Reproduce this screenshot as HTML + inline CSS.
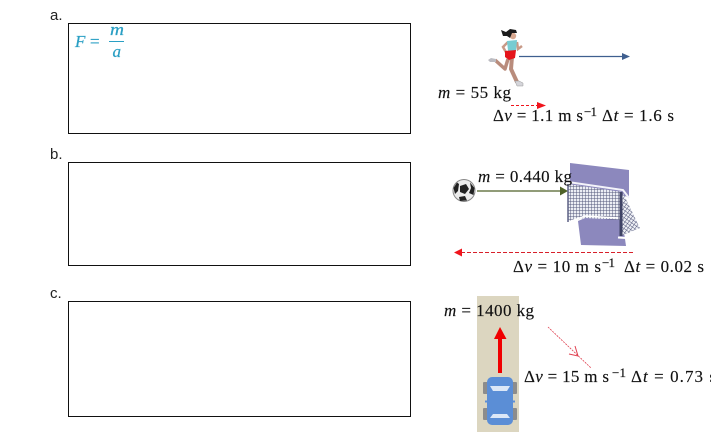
<!DOCTYPE html>
<html>
<head>
<meta charset="utf-8">
<style>
html,body{margin:0;padding:0;background:#fff;width:711px;height:439px;overflow:hidden}
svg{display:block}
.l{font-family:"Liberation Sans",sans-serif;font-size:15px;fill:#222}
.t{font-family:"Liberation Serif",serif;font-size:17px;fill:#111;stroke:#111;stroke-width:.15px}
.s{font-family:"Liberation Serif",serif;font-size:13px;fill:#111;stroke:#111;stroke-width:.15px}
.i{font-style:italic}
.f{font-family:"Liberation Serif",serif;font-size:17px;fill:#2a9fc4;stroke:#2a9fc4;stroke-width:.25px;font-style:italic}
</style>
</head>
<body>
<svg width="711" height="439" viewBox="0 0 711 439" xmlns="http://www.w3.org/2000/svg">
<defs>
<pattern id="net" width="3" height="3" patternUnits="userSpaceOnUse">
<rect width="3" height="3" fill="#eceef4"/>
<path d="M0 0H3M0 0V3" stroke="#55597c" stroke-width="1"/>
</pattern>
<pattern id="side" width="3" height="3" patternUnits="userSpaceOnUse" patternTransform="rotate(35)">
<rect width="3" height="3" fill="#eef0f5"/>
<path d="M0 0H3M0 0V3" stroke="#55597c" stroke-width="1"/>
</pattern>
</defs>

<rect x="68.500" y="23.500" width="342" height="110" fill="#fff" stroke="#111"/>
<rect x="68.500" y="162.500" width="342" height="103" fill="#fff" stroke="#111"/>
<rect x="68.500" y="301.500" width="342" height="115" fill="#fff" stroke="#111"/>

<text class="l" x="50" y="20">a.</text>
<text class="l" x="50" y="159">b.</text>
<text class="l" x="50" y="298">c.</text>

<text class="f" x="75" y="47">F</text>
<text class="f" x="90" y="47" style="font-style:normal">=</text>
<text class="f" x="110" y="35" textLength="14" lengthAdjust="spacingAndGlyphs">m</text>
<rect x="109" y="41" width="15" height="1" fill="#2a9fc4"/>
<text class="f" x="112.500" y="57">a</text>

<!-- runner -->
<path d="M508 59 L505 69 L495 60" fill="none" stroke="#b98c7c" stroke-width="3.500" stroke-linejoin="round"/>
<path d="M512 57 L511 69 L517 82" fill="none" stroke="#b98c7c" stroke-width="4" stroke-linejoin="round"/>
<path d="M488 60 L491 58 L496 59 L496 62 L490 62 Z" fill="#bcbcc2"/>
<path d="M515 81 L519 81 L523 83 L523 86 L517 86 Z" fill="#d5d5da" stroke="#999" stroke-width=".5"/>
<path d="M508 42 L503 47 L507 54" fill="none" stroke="#c89a88" stroke-width="2.500"/>
<path d="M517 42 L518 49 L522 46" fill="none" stroke="#c89a88" stroke-width="2.500"/>
<path d="M507 41 L517 40 L516 51 L508 51 Z" fill="#77ccd2"/>
<path d="M505 51 L516 50 L515 58 L509 60 L505 57 Z" fill="#e5141a"/>
<circle cx="513" cy="36" r="3.200" fill="#d8a890"/>
<path d="M501 30 L506 32 L510 29 L516 30 L517 33 L512 33 L510 38 L507 36 L503 36 Z" fill="#1c1c1c"/>

<path d="M519 56.500H623" stroke="#3f5f8f" stroke-width="1.200"/>
<path d="M622 53 L630 56.500 L622 60 Z" fill="#3f5f8f"/>
<text class="t" x="438" y="98" textLength="73" lengthAdjust="spacing"><tspan class="i">m</tspan> = 55 kg</text>
<path d="M511 105.500H538" stroke="#f0141c" stroke-width="1" stroke-dasharray="3 2"/>
<path d="M537 102 L546 105.500 L537 109 Z" fill="#f0141c"/>
<text class="t" x="493" y="121" textLength="90" lengthAdjust="spacing">Δ<tspan class="i">v</tspan> = 1.1 m s</text>
<text class="s" x="584" y="116" textLength="13" lengthAdjust="spacing">−1</text>
<text class="t" x="602" y="121" textLength="72" lengthAdjust="spacing">Δ<tspan class="i">t</tspan> = 1.6 s</text>

<!-- ball -->
<circle cx="464" cy="190.500" r="11" fill="#ececec" stroke="#888" stroke-width="1"/>
<path d="M460 186 L466 184 L469 189 L465 194 L460 192 Z" fill="#222"/>
<path d="M453.500 188 L457 182.500 L459 184 L458 191 L455 194 Z" fill="#222"/>
<path d="M470 182.500 L474.500 188 L473.500 195 L469 193 L471 188 Z" fill="#222"/>
<path d="M459 197 L465 196 L467 200.500 L460 201 Z" fill="#222"/>
<path d="M477 191H561" stroke="#4f6228" stroke-width="1.200"/>
<path d="M560 186.500 L568 191 L560 195.500 Z" fill="#4f6228"/>

<!-- goal -->
<path d="M570 163 L629 170 L629 197 L570 186 Z" fill="#8c88bd"/>
<path d="M578 221 L590 216 L622 218 L626 246 L581 245 Z" fill="#8c88bd"/>
<path d="M568 184 L622 192 L621 220 L585 218 L568 221 Z" fill="url(#net)"/>
<path d="M623 193 L640 228 L621 236 Z" fill="url(#side)"/>
<path d="M568 182 L623 190 L629 198" fill="none" stroke="#f4f4fa" stroke-width="2"/>
<path d="M621 192V236" stroke="#3f4365" stroke-width="3"/>
<path d="M568 184V222" stroke="#5c6084" stroke-width="1.500"/>
<path d="M618 237.500 L626 238" stroke="#fff" stroke-width="2"/>
<path d="M571 221 L585 216 L618 218" fill="none" stroke="#fff" stroke-width="1.500"/>

<text class="t" x="478" y="182" textLength="94" lengthAdjust="spacing"><tspan class="i">m</tspan> = 0.440 kg</text>
<path d="M461 252.500H633" stroke="#d8202a" stroke-width="1" stroke-dasharray="4 2"/>
<path d="M462 248.500 L454 252.500 L462 256.500 Z" fill="#f0141c"/>
<text class="t" x="513" y="272" textLength="88" lengthAdjust="spacing">Δ<tspan class="i">v</tspan> = 10 m s</text>
<text class="s" x="602" y="267" textLength="13" lengthAdjust="spacing">−1</text>
<text class="t" x="624" y="272" textLength="80" lengthAdjust="spacing">Δ<tspan class="i">t</tspan> = 0.02 s</text>

<!-- road and car -->
<rect x="477" y="296" width="42" height="136" fill="#dcd6c0"/>
<text class="t" x="444" y="316" textLength="90" lengthAdjust="spacing"><tspan class="i">m</tspan> = 1400 kg</text>
<rect x="498" y="338" width="4" height="35" fill="#f00000"/>
<path d="M500 327 L506.500 339 L494 339 Z" fill="#f00000"/>
<rect x="483" y="382" width="6" height="12" rx="1" fill="#8c8c8c"/>
<rect x="511" y="382" width="6" height="12" rx="1" fill="#8c8c8c"/>
<rect x="483" y="408" width="6" height="12" rx="1" fill="#8c8c8c"/>
<rect x="511" y="408" width="6" height="12" rx="1" fill="#8c8c8c"/>
<rect x="487" y="377" width="26" height="48" rx="5" fill="#5b8ed6"/>
<path d="M490 386 L510 386 L507 391 L493 391 Z" fill="#dce7f7"/>
<path d="M493 414 L507 414 L510 418 L490 418 Z" fill="#dce7f7"/>
<path d="M485 401.500H491M509 401.500H515" stroke="#5b8ed6" stroke-width="2"/>

<path d="M548 327 L591 368" stroke="#e04050" stroke-width=".8" stroke-dasharray="2 1"/>
<path d="M569 354 L578 356 L575 346" fill="none" stroke="#e04050" stroke-width="1"/>
<text class="t" x="524" y="382" textLength="85" lengthAdjust="spacing">Δ<tspan class="i">v</tspan> = 15 m s</text>
<text class="s" x="612" y="377" textLength="14" lengthAdjust="spacing">−1</text>
<text class="t" x="631" y="382" textLength="85" lengthAdjust="spacing">Δ<tspan class="i">t</tspan> = 0.73 s</text>
</svg>
</body>
</html>
